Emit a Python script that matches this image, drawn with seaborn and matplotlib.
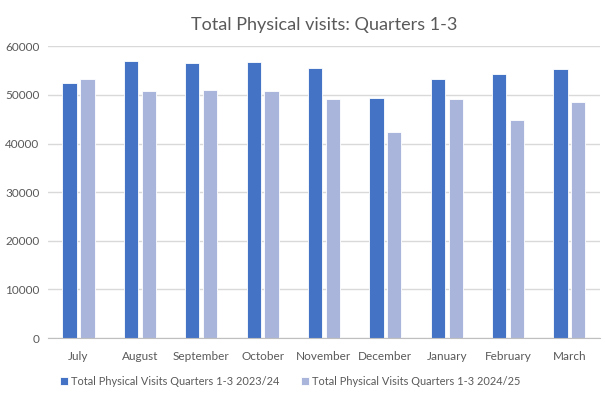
import pandas as pd
import numpy as np
import matplotlib
matplotlib.use('Agg')
import matplotlib.pyplot as plt
import seaborn as sns
from matplotlib.ticker import MultipleLocator, FixedLocator

months = ['July', 'August', 'September', 'October', 'November',
          'December', 'January', 'February', 'March']
visits_2324 = [52400, 57000, 56500, 56850, 55500, 49450, 53300, 54250, 55400]
visits_2425 = [53300, 50700, 51000, 50800, 49100, 42300, 49100, 44800, 48500]
series_names = ['Total Physical Visits Quarters 1-3 2023/24',
                'Total Physical Visits Quarters 1-3 2024/25']
colors = ['#4472C4', '#A9B5DA']
grey_text = '#595959'


def build_frame():
    df = pd.DataFrame({'month': months * 2,
                       'visits': visits_2324 + visits_2425,
                       'series': [series_names[0]] * len(months) + [series_names[1]] * len(months)})
    return df


def plot_data(df, out_path):
    sns.set_style('white')
    plt.rcParams['font.family'] = ['Lato', 'DejaVu Sans']
    fig, ax = plt.subplots(figsize=(6.05, 3.95), dpi=100)
    sns.barplot(data=df, x='month', y='visits', hue='series', order=months,
                hue_order=series_names, palette=colors, saturation=1, width=0.58, gap=0.2,
                edgecolor='white', linewidth=0.6, ax=ax, legend=True)
    ax.set_ylim(0, 60000)
    ax.set_xlim(-0.5, len(months) - 0.5)
    ax.yaxis.set_major_locator(MultipleLocator(10000))
    ax.grid(axis='y', color='#D9D9D9', linewidth=1)
    ax.set_axisbelow(True)
    for s in ['top', 'right', 'left']:
        ax.spines[s].set_visible(False)
    ax.spines['bottom'].set_color('#BFBFBF')
    ax.set_xlabel('')
    ax.set_ylabel('')
    ax.tick_params(axis='y', length=0, labelsize=8.5, labelcolor=grey_text, pad=6)
    ax.tick_params(axis='x', which='major', length=0, labelsize=8.5, labelcolor=grey_text, pad=9)
    ax.xaxis.set_minor_locator(FixedLocator(np.arange(-0.5, len(months), 1.0)))
    ax.tick_params(axis='x', which='minor', length=4, color='#BFBFBF')
    ax.set_title('Total Physical visits: Quarters 1-3', fontsize=13, color=grey_text, pad=12)
    handles, labels = ax.get_legend_handles_labels()
    ax.get_legend().remove()
    fig.legend(handles, labels, loc='lower center', bbox_to_anchor=(0.48, -0.005), ncol=2,
               frameon=False, fontsize=7.9, labelcolor=grey_text, handlelength=0.7,
               handleheight=0.7, handletextpad=0.3, columnspacing=2.0)
    fig.subplots_adjust(left=0.079, right=0.992, bottom=0.144, top=0.883)
    fig.savefig(out_path, facecolor='white')
    plt.close(fig)


def main():
    df = build_frame()
    plot_data(df, 'out.png')


if __name__ == '__main__':
    main()
